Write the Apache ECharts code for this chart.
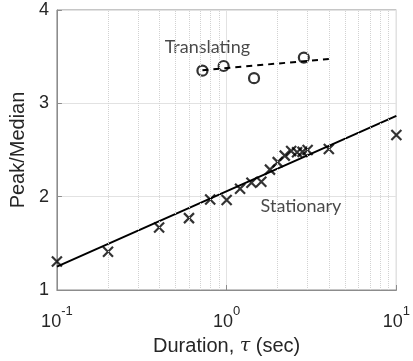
<!DOCTYPE html>
<html>
<head>
<meta charset="utf-8">
<script src="https://cdn.jsdelivr.net/npm/echarts@6/dist/echarts.min.js"></script>
<style>
  html, body { margin: 0; padding: 0; background: #fff; }
  #chart { width: 413px; height: 361px; }
</style>
</head>
<body>
<div id="chart"></div>
<script>
// 数据：静止 (x) 与平移 (o) 两组
var stationaryX = [0.1, 0.2, 0.4, 0.6, 0.8, 1.0, 1.2, 1.4, 1.6, 1.8, 2.0, 2.2, 2.4, 2.6, 2.8, 3.0, 4.0, 10];
var stationaryY = [1.305, 1.41, 1.67, 1.77, 1.97, 1.965, 2.085, 2.15, 2.16, 2.29, 2.37, 2.44, 2.49, 2.475, 2.48, 2.50, 2.51, 2.66];
var translatingX = [0.72, 0.96, 1.45, 2.85];
var translatingY = [3.35, 3.40, 3.27, 3.49];

// 拟合直线的两个端点
var stationaryFitX = [0.1, 10];
var stationaryFitY = [1.25, 2.865];
var translatingFitX = [0.72, 4];
var translatingFitY = [3.355, 3.475];

// 文字标注
var noteNames = ['Translating', 'Stationary'];
var noteX = [0.77, 2.74];
var noteY = [3.6, 1.9];

// 对数轴的次刻度
var minorTicks = [0.2, 0.3, 0.4, 0.5, 0.6, 0.7, 0.8, 0.9, 2, 3, 4, 5, 6, 7, 8, 9];

function zip(xs, ys) {
    return xs.map(function (x, i) { return [x, ys[i]]; });
}

var labelFont = '"Liberation Sans", Arial, sans-serif';
var textColor = '#262626';
var boxColor = '#8c8c8c';

var myChart = echarts.init(document.getElementById('chart'));

var option = {
    animation: false,
    grid: {
        left: 44, right: 16, top: 10, bottom: 69,
        show: true,
        borderColor: boxColor,
        borderWidth: 1
    },
    xAxis: {
        type: 'log',
        logBase: 10,
        min: 0.1,
        max: 10,
        name: 'Duration, {tau|τ} (sec)',
        nameLocation: 'middle',
        nameGap: 46,
        nameTextStyle: {
            fontFamily: labelFont, fontSize: 20, color: textColor,
            rich: {
                tau: { fontFamily: '"DejaVu Serif", serif', fontStyle: 'italic', fontSize: 19, color: textColor }
            }
        },
        axisLine: { lineStyle: { color: boxColor } },
        axisTick: { inside: true, length: 5, lineStyle: { color: boxColor } },
        splitLine: { show: true, lineStyle: { color: '#e2e2e2' } },
        axisLabel: {
            margin: 15,
            formatter: function (v) {
                var e = Math.round(Math.log(v) / Math.LN10);
                return '{b|10}{s|' + e + '}';
            },
            rich: {
                b: { fontFamily: labelFont, fontSize: 18, color: textColor, verticalAlign: 'bottom', lineHeight: 26 },
                s: { fontFamily: labelFont, fontSize: 13, color: textColor, verticalAlign: 'top', lineHeight: 26 }
            }
        }
    },
    yAxis: {
        type: 'value',
        min: 1,
        max: 4,
        interval: 1,
        name: 'Peak/Median',
        nameLocation: 'middle',
        nameGap: 24,
        nameTextStyle: { fontFamily: labelFont, fontSize: 20, color: textColor },
        axisLine: { show: true, lineStyle: { color: boxColor } },
        axisTick: { show: true, inside: true, length: 5, lineStyle: { color: boxColor } },
        splitLine: { show: true, lineStyle: { color: '#e2e2e2' } },
        axisLabel: { margin: 8, fontFamily: labelFont, fontSize: 18, color: textColor }
    },
    series: [
        {
            // 次网格线（点线）
            type: 'line',
            data: [],
            silent: true,
            markLine: {
                silent: true,
                symbol: 'none',
                label: { show: false },
                lineStyle: { type: 'dotted', color: '#d2d2d2', width: 1 },
                data: minorTicks.map(function (v) { return { xAxis: v }; })
            }
        },
        {
            name: 'Stationary fit',
            type: 'line',
            data: zip(stationaryFitX, stationaryFitY),
            showSymbol: false,
            lineStyle: { color: '#000', width: 2 }
        },
        {
            name: 'Translating fit',
            type: 'line',
            data: zip(translatingFitX, translatingFitY),
            showSymbol: false,
            lineStyle: { color: '#000', width: 2, type: [6, 5] }
        },
        {
            name: 'Stationary',
            type: 'scatter',
            data: zip(stationaryX, stationaryY),
            symbol: 'path://M0,0L10,10M10,0L0,10',
            symbolSize: 10,
            itemStyle: { color: 'none', borderColor: '#000', borderWidth: 2.2 }
        },
        {
            name: 'Translating',
            type: 'scatter',
            data: zip(translatingX, translatingY),
            symbol: 'circle',
            symbolSize: 10,
            itemStyle: { color: '#fff', borderColor: '#000', borderWidth: 2.2 }
        },
        {
            // 文字标注
            type: 'scatter',
            symbolSize: 0,
            silent: true,
            itemStyle: { color: 'none' },
            data: noteNames.map(function (n, i) { return { name: n, value: [noteX[i], noteY[i]] }; }),
            label: {
                show: true,
                position: 'inside',
                formatter: '{b}',
                fontFamily: 'Lato, "Open Sans", sans-serif',
                fontSize: 18,
                color: '#1a1a1a',
                textBorderWidth: 0
            }
        }
    ]
};

myChart.setOption(option);

window.addEventListener('resize', function () {
    myChart.resize();
});
</script>
</body>
</html>
